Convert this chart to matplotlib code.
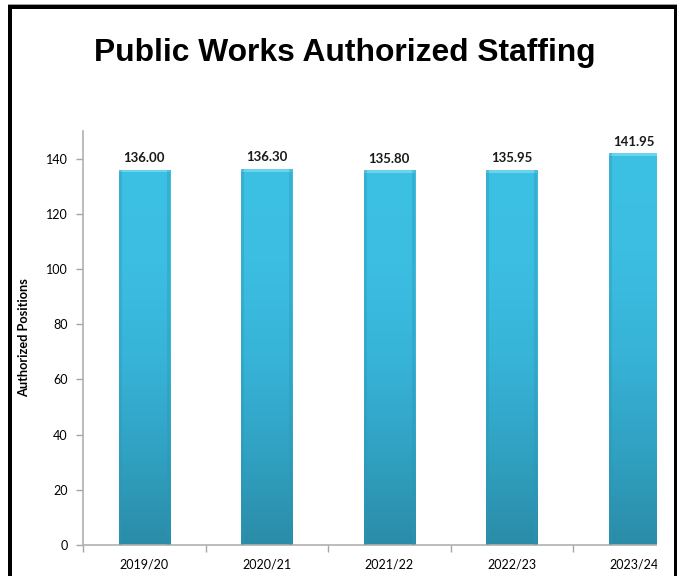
import numpy as np
import matplotlib.pyplot as plt
from matplotlib.patches import Rectangle
from matplotlib.colors import LinearSegmentedColormap

years = ["2019/20", "2020/21", "2021/22", "2022/23", "2023/24"]
positions = [136.00, 136.30, 135.80, 135.95, 141.95]
labels = ["136.00", "136.30", "135.80", "135.95", "141.95"]
y_ticks = [0, 20, 40, 60, 80, 100, 120, 140]

W, H = 677, 576
fig = plt.figure(figsize=(W / 100, H / 100), dpi=100)
fig.patch.set_facecolor("white")

ax = fig.add_axes([83 / W, (H - 545) / H, 612.5 / W, 414 / H])
x = np.arange(len(years))
bw = 0.42

grad = LinearSegmentedColormap.from_list(
    "bar", ["#2a8ca8", "#31a2c3", "#37b4d8", "#3bbee2", "#3cc0e4"])

bars = ax.bar(x, positions, width=bw, color="none", edgecolor="none", zorder=2)
for b in bars:
    x0, w_, h_ = b.get_x(), b.get_width(), b.get_height()
    img = np.linspace(0, 1, 256).reshape(-1, 1)
    im = ax.imshow(img, cmap=grad, origin="lower", aspect="auto",
                   extent=[x0, x0 + w_, 0, h_], zorder=2)
    im.set_clip_path(b)
    # bright rim along the top of each column
    ax.add_patch(Rectangle((x0, h_ - 1.0), w_, 1.0, color="#6ad3ee",
                           lw=0, zorder=3))
    # darker side edges
    ax.add_patch(Rectangle((x0, 0), w_ * 0.06, h_, color="#2c95b4",
                           alpha=0.35, lw=0, zorder=3))
    ax.add_patch(Rectangle((x0 + w_ * 0.94, 0), w_ * 0.06, h_,
                           color="#2c95b4", alpha=0.35, lw=0, zorder=3))

for xi, v, t in zip(x, positions, labels):
    ax.text(xi, v + 2.0, t, ha="center", va="bottom", fontsize=9.5,
            fontweight="bold", family="Lato", color="#1a1a1a")

ax.set_xlim(-0.5, len(years) - 0.5)
ax.set_ylim(0, 150)
ax.set_yticks(y_ticks)
ax.set_yticklabels([str(t) for t in y_ticks], family="Lato", fontsize=9)
ax.set_xticks(x)
ax.set_xticklabels(years, family="Lato", fontsize=9)
ax.set_xticks(np.arange(len(years) + 1) - 0.5, minor=True)
ax.tick_params(axis="x", which="major", length=0, pad=10)
ax.tick_params(axis="x", which="minor", length=5, color="#a6a6a6", width=1)
ax.tick_params(axis="y", length=5, color="#a6a6a6", width=1, pad=6)

for s in ("top", "right"):
    ax.spines[s].set_visible(False)
for s in ("left", "bottom"):
    ax.spines[s].set_color("#b0b0b0")
    ax.spines[s].set_linewidth(1.2)

ax.set_ylabel("Authorized Positions", family="Lato", fontweight="bold",
              fontsize=9.2, labelpad=11)

fig.text(0.5 * (93 + 596) / W, 1 - 53 / H, "Public Works Authorized Staffing",
         ha="center", va="center", family="Liberation Sans",
         fontweight="bold", fontsize=22.9)

# right margin and frame
fig.patches.append(Rectangle((657 / W, 0), 17 / W, 1, transform=fig.transFigure,
                             color="white", lw=0, zorder=10))
fig.patches.append(Rectangle((674 / W, 0), 3 / W, (H - 5) / H,
                             transform=fig.transFigure, color="black", lw=0,
                             zorder=11))
fig.patches.append(Rectangle((8 / W, 0), 3.5 / W, (H - 5) / H,
                             transform=fig.transFigure, color="black", lw=0,
                             zorder=11))
fig.patches.append(Rectangle((8 / W, (H - 8.5) / H), (677 - 8) / W, 3.5 / H,
                             transform=fig.transFigure, color="black", lw=0,
                             zorder=11))
fig.patches.append(Rectangle((8 / W, (H - 5) / H), (677 - 8) / W, 1.2 / H,
                             transform=fig.transFigure, color="#a0a0a0", lw=0,
                             zorder=11))

fig.savefig("out.png", dpi=100)
